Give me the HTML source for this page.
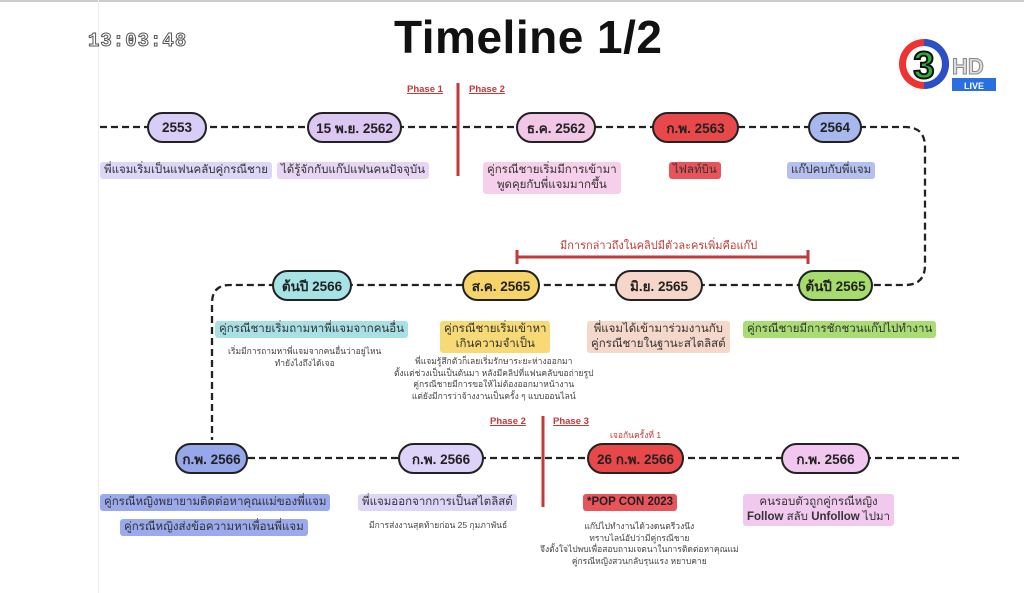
<!DOCTYPE html>
<html><head><meta charset="utf-8"><style>
*{margin:0;padding:0;box-sizing:border-box}
body{width:1024px;height:593px;background:#fff;position:relative;overflow:hidden;font-family:"Liberation Sans","Noto Sans CJK SC",sans-serif}
.a{position:absolute}
.pill{position:absolute;border:2.5px solid #222;border-radius:16px;height:31px;display:flex;align-items:center;justify-content:center;font-weight:bold;font-size:13.5px;color:#222;font-family:"Liberation Sans","Noto Sans CJK SC",sans-serif}
.lb{position:absolute;font-size:11.5px;line-height:15px;padding:1px 4px;border-radius:3px;color:#333;text-align:center;white-space:nowrap}
.sm{position:absolute;font-size:8.5px;line-height:11.5px;color:#444;text-align:center;white-space:nowrap}
.ph{position:absolute;font-size:9.5px;font-weight:bold;color:#c23a3a;text-decoration:underline}
</style></head><body>
<div class="a" style="left:0;top:0;width:1024px;height:2px;background:#ccc"></div>
<div class="a" style="left:98px;top:0;width:1px;height:593px;background:#eee"></div>
<div class="a" style="left:88px;top:30px;font-size:19px;font-weight:bold;color:#fff;-webkit-text-stroke:1px #555;letter-spacing:1px;font-family:'Liberation Mono',monospace">13:03:48</div>
<div class="a" style="left:394px;top:10px;font-size:46px;font-weight:bold;color:#111;letter-spacing:0.5px">Timeline 1/2</div>
<svg class="a" style="left:896px;top:36px" width="105" height="60">
<circle cx="28" cy="28" r="25" fill="#e33" /><path d="M28 3 A25 25 0 0 1 28 53 Z" fill="#2a4fc7"/><circle cx="28" cy="28" r="18" fill="#fff"/>
<text x="28" y="42" text-anchor="middle" font-size="38" font-weight="bold" fill="#2fae3a" stroke="#111" stroke-width="2" font-family="Liberation Sans">3</text>
<text x="56" y="38" font-size="22" font-weight="bold" fill="#ddd" stroke="#888" stroke-width="1" font-family="Liberation Sans">HD</text>
<rect x="56" y="42" width="44" height="13" fill="#2a6fe0"/><text x="78" y="53" text-anchor="middle" font-size="9" font-weight="bold" fill="#fff" font-family="Liberation Sans">LIVE</text>
</svg>
<svg class="a" style="left:0;top:0" width="1024" height="593">
<g fill="none" stroke="#222" stroke-width="2.3" stroke-dasharray="7,4">
<path d="M100 127 H905 Q925 127 925 147 V265 Q925 285 905 285 H230 Q212 285 212 303 V440"/>
<path d="M248 458 H960"/>
</g>
<g stroke="#c23a3a" stroke-width="3">
<line x1="458" y1="83" x2="458" y2="176"/>
<line x1="543" y1="416" x2="543" y2="507"/>
<line x1="517" y1="257" x2="808" y2="257"/>
<line x1="517" y1="250" x2="517" y2="264"/>
<line x1="808" y1="250" x2="808" y2="264"/>
</g>
</svg>
<div class="ph" style="left:407px;top:84px">Phase 1</div>
<div class="ph" style="left:469px;top:84px">Phase 2</div>
<div class="ph" style="left:490px;top:416px">Phase 2</div>
<div class="ph" style="left:553px;top:416px">Phase 3</div>
<div class="a" style="left:560px;top:236px;font-size:11px;color:#c23a3a">มีการกล่าวถึงในคลิปมีตัวละครเพิ่มคือแก๊ป</div>
<div class="sm" style="left:610px;top:430px;color:#c23a3a">เจอกันครั้งที่ 1</div>

<div class="pill" style="left:147px;top:112px;width:60px;background:#d7cdf6">2553</div>
<div class="pill" style="left:307px;top:112px;width:95px;background:#dcc6f2">15 พ.ย. 2562</div>
<div class="pill" style="left:516px;top:112px;width:80px;background:#f2c7e6">ธ.ค. 2562</div>
<div class="pill" style="left:652px;top:112px;width:87px;background:#e8484a">ก.พ. 2563</div>
<div class="pill" style="left:808px;top:112px;width:54px;background:#a9b7ef">2564</div>

<div class="pill" style="left:272px;top:270px;width:80px;background:#a6e3e6">ต้นปี 2566</div>
<div class="pill" style="left:462px;top:270px;width:78px;background:#f7d46a">ส.ค. 2565</div>
<div class="pill" style="left:615px;top:270px;width:88px;background:#f5d6c8">มิ.ย. 2565</div>
<div class="pill" style="left:798px;top:270px;width:75px;background:#a6dc6c">ต้นปี 2565</div>

<div class="pill" style="left:175px;top:443px;width:73px;background:#96a7ea">ก.พ. 2566</div>
<div class="pill" style="left:398px;top:443px;width:86px;background:#ddd3f8">ก.พ. 2566</div>
<div class="pill" style="left:587px;top:443px;width:97px;background:#e8484a">26 ก.พ. 2566</div>
<div class="pill" style="left:781px;top:443px;width:89px;background:#f2c7ef">ก.พ. 2566</div>

<div class="lb" style="left:100px;top:162px;background:#dcd6f7">พี่แจมเริ่มเป็นแฟนคลับคู่กรณีชาย</div>
<div class="lb" style="left:277px;top:162px;background:#e8d4f3">ได้รู้จักกับแก๊ปแฟนคนปัจจุบัน</div>
<div class="lb" style="left:483px;top:162px;background:#f6d0ea">คู่กรณีชายเริ่มมีการเข้ามา<br>พูดคุยกับพี่แจมมากขึ้น</div>
<div class="lb" style="left:669px;top:162px;background:#e8545a">ไฟลท์บิน</div>
<div class="lb" style="left:787px;top:162px;background:#b3c0f0">แก๊ปคบกับพี่แจม</div>

<div class="lb" style="left:215px;top:321px;background:#a9e0e6">คู่กรณีชายเริ่มถามหาพี่แจมจากคนอื่น</div>
<div class="sm" style="left:228px;top:346px">เริ่มมีการถามหาพี่แจมจากคนอื่นว่าอยู่ไหน<br>ทำยังไงถึงได้เจอ</div>
<div class="lb" style="left:440px;top:321px;background:#f7da75">คู่กรณีชายเริ่มเข้าหา<br>เกินความจำเป็น</div>
<div class="sm" style="left:394px;top:356px">พี่แจมรู้สึกตัวก็เลยเริ่มรักษาระยะห่างออกมา<br>ตั้งแต่ช่วงเป็นเป็นต้นมา หลังมีคลิปที่แฟนคลับขอถ่ายรูป<br>คู่กรณีชายมีการขอให้ไม่ต้องออกมาหน้างาน<br>แต่ยังมีการว่าจ้างงานเป็นครั้ง ๆ แบบออนไลน์</div>
<div class="lb" style="left:587px;top:321px;background:#f6d8cb">พี่แจมได้เข้ามาร่วมงานกับ<br>คู่กรณีชายในฐานะสไตลิสต์</div>
<div class="lb" style="left:743px;top:321px;background:#a9dc72">คู่กรณีชายมีการชักชวนแก๊ปไปทำงาน</div>

<div class="lb" style="left:100px;top:494px;background:#9aaaec">คู่กรณีหญิงพยายามติดต่อหาคุณแม่ของพี่แจม</div>
<div class="lb" style="left:120px;top:519px;background:#9aaaec">คู่กรณีหญิงส่งข้อความหาเพื่อนพี่แจม</div>
<div class="lb" style="left:358px;top:494px;background:#ded6f8">พี่แจมออกจากการเป็นสไตลิสต์</div>
<div class="sm" style="left:369px;top:520px">มีการส่งงานสุดท้ายก่อน 25 กุมภาพันธ์</div>
<div class="lb" style="left:583px;top:494px;background:#e8545a;font-weight:bold;color:#222">*POP CON 2023</div>
<div class="sm" style="left:540px;top:521px">แก๊ปไปทำงานได้วงดนตรีวงนึง<br>ทราบไลน์อัปว่ามีคู่กรณีชาย<br>จึงตั้งใจไปพบเพื่อสอบถามเจตนาในการติดต่อหาคุณแม่<br>คู่กรณีหญิงสวนกลับรุนแรง หยาบคาย</div>
<div class="lb" style="left:743px;top:494px;background:#f1c9ee">คนรอบตัวถูกคู่กรณีหญิง<br><b>Follow</b> สลับ <b>Unfollow</b> ไปมา</div>
</body></html>
